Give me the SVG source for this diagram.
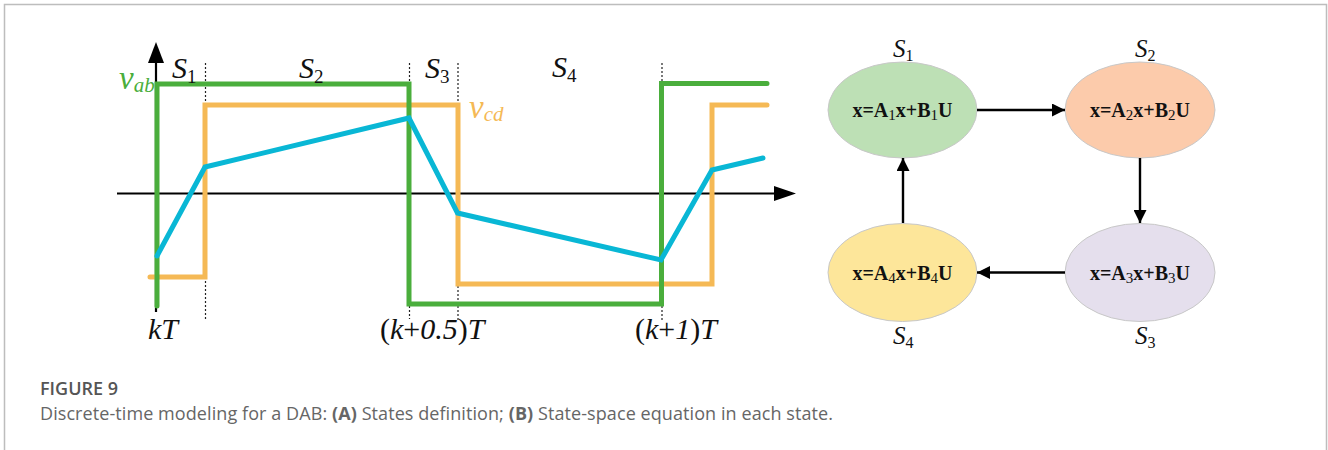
<svg xmlns="http://www.w3.org/2000/svg" width="1328" height="450" viewBox="0 0 1328 450">
<defs>
<style>
.ser{font-family:"Liberation Serif","Times New Roman",serif;}
.it{font-style:italic;}
.lbl{font-family:"Liberation Serif","Times New Roman",serif;font-size:30px;fill:#111;}
.slbl{font-family:"Liberation Serif","Times New Roman",serif;font-size:25px;fill:#111;}
.eq{font-family:"Liberation Serif","Times New Roman",serif;font-size:20px;font-weight:bold;fill:#111;text-anchor:middle;}
.dot{stroke:#222;stroke-width:1.2;stroke-dasharray:2 2;fill:none;}
.wave{fill:none;stroke-width:5;stroke-linejoin:miter;stroke-linecap:round;}
.conn{stroke:#000;stroke-width:2.4;fill:none;}
.ell{stroke:#c8c8c8;stroke-width:1;}
.cap{font-family:"Open Sans","Noto Sans",sans-serif;font-size:18px;}
</style>
<marker id="ah" viewBox="0 0 10 10" refX="10" refY="5" markerWidth="14" markerHeight="13" markerUnits="userSpaceOnUse" orient="auto">
<path d="M0,0 L10,5 L0,10 z" fill="#000"/>
</marker>
</defs>
<rect x="0" y="0" width="1328" height="450" fill="#fff"/>
<path d="M4.5,450 V4.5 H1326.5 V450" fill="none" stroke="#bdbdbd" stroke-width="1.5"/>

<g id="waveform">
<line x1="156" y1="312" x2="156" y2="62" stroke="#000" stroke-width="2.2"/>
<path d="M148,63 L156,42 L164,63 z" fill="#000"/>
<line x1="117" y1="193.5" x2="776" y2="193.5" stroke="#000" stroke-width="2.2"/>
<path d="M774,186 L796,193.5 L774,201 z" fill="#000"/>
<path class="dot" d="M205.5,63 V103 M205.5,281 V319 M409.5,63 V82 M409.5,306 V319 M458,63 V103 M458,286 V320 M662,63 V81 M662,306 V320"/>
<polyline class="wave" stroke="#f5b955" points="150,277 205,277 205,105 458,105 458,284 712,284 712,105 767,105"/>
<polyline class="wave" stroke="#4aae3c" stroke-linecap="butt" points="157,306 157,84 409,84 409,304 661.5,304 661.5,83.5 767,83.5"/>
<polyline class="wave" stroke="#09b7d5" points="157,256 205,167 409,118 457.5,213 661,260 712,170 763,158"/>
<text class="lbl" x="172" y="78"><tspan class="it">S</tspan><tspan font-size="19" dy="5">1</tspan></text>
<text class="lbl" x="299" y="78"><tspan class="it">S</tspan><tspan font-size="19" dy="5">2</tspan></text>
<text class="lbl" x="425" y="78"><tspan class="it">S</tspan><tspan font-size="19" dy="5">3</tspan></text>
<text class="lbl" x="552" y="77"><tspan class="it">S</tspan><tspan font-size="19" dy="5">4</tspan></text>
<text class="ser it" x="119" y="89" font-size="33" fill="#4aae3c">v<tspan font-size="21" dy="3">ab</tspan></text>
<text class="ser it" x="469" y="118" font-size="33" fill="#f5b955">v<tspan font-size="21" dy="3">cd</tspan></text>
<text class="lbl it" x="148" y="339">kT</text>
<text class="lbl" x="380" y="339">(<tspan class="it">k</tspan>+<tspan class="it">0.5</tspan>)<tspan class="it">T</tspan></text>
<text class="lbl" x="635" y="339">(<tspan class="it">k</tspan>+<tspan class="it">1</tspan>)<tspan class="it">T</tspan></text>
</g>

<g id="node-s1">
<ellipse class="ell" cx="902.5" cy="110" rx="74.5" ry="48" fill="#bde0b5"/>
<text class="eq" x="902.5" y="117">x=A<tspan font-size="15" font-weight="normal" dy="3">1</tspan><tspan dy="-3">x+B</tspan><tspan font-size="15" font-weight="normal" dy="3">1</tspan><tspan dy="-3">U</tspan></text>
<text class="slbl" x="893" y="57"><tspan class="it">S</tspan><tspan font-size="16" dy="4">1</tspan></text>
</g>
<g id="node-s2">
<ellipse class="ell" cx="1140" cy="110" rx="75" ry="48" fill="#fccbab"/>
<text class="eq" x="1140" y="117">x=A<tspan font-size="15" font-weight="normal" dy="3">2</tspan><tspan dy="-3">x+B</tspan><tspan font-size="15" font-weight="normal" dy="3">2</tspan><tspan dy="-3">U</tspan></text>
<text class="slbl" x="1135" y="57"><tspan class="it">S</tspan><tspan font-size="16" dy="4">2</tspan></text>
</g>
<g id="node-s3">
<ellipse class="ell" cx="1140" cy="272.5" rx="75" ry="49" fill="#e5dfed"/>
<text class="eq" x="1140" y="280">x=A<tspan font-size="15" font-weight="normal" dy="3">3</tspan><tspan dy="-3">x+B</tspan><tspan font-size="15" font-weight="normal" dy="3">3</tspan><tspan dy="-3">U</tspan></text>
<text class="slbl" x="1135" y="344"><tspan class="it">S</tspan><tspan font-size="16" dy="4">3</tspan></text>
</g>
<g id="node-s4">
<ellipse class="ell" cx="902.5" cy="272.5" rx="74.5" ry="49" fill="#fde69a"/>
<text class="eq" x="902.5" y="280">x=A<tspan font-size="15" font-weight="normal" dy="3">4</tspan><tspan dy="-3">x+B</tspan><tspan font-size="15" font-weight="normal" dy="3">4</tspan><tspan dy="-3">U</tspan></text>
<text class="slbl" x="893" y="344"><tspan class="it">S</tspan><tspan font-size="16" dy="4">4</tspan></text>
</g>

<g id="connectors">
<line class="conn" x1="977" y1="110" x2="1065" y2="110" marker-end="url(#ah)"/>
<line class="conn" x1="1140" y1="158" x2="1140" y2="223" marker-end="url(#ah)"/>
<line class="conn" x1="1065" y1="272.5" x2="977" y2="272.5" marker-end="url(#ah)"/>
<line class="conn" x1="903" y1="223" x2="903" y2="158" marker-end="url(#ah)"/>
</g>

<g id="caption">
<text class="cap" x="40" y="395" fill="#555" font-weight="600">FIGURE 9</text>
<text class="cap" x="40" y="420" fill="#666" textLength="793" lengthAdjust="spacing">Discrete-time modeling for a DAB: <tspan font-weight="bold">(A)</tspan> States definition; <tspan font-weight="bold">(B)</tspan> State-space equation in each state.</text>
</g>
</svg>
